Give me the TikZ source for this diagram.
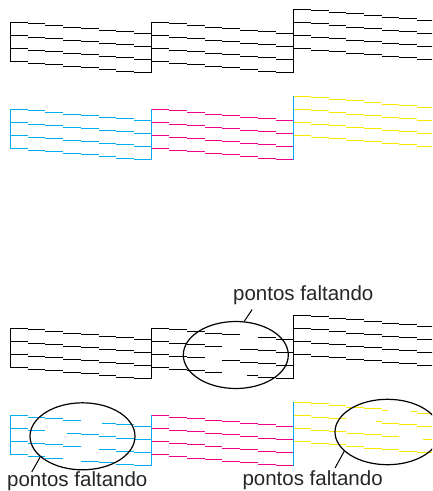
\documentclass[tikz,border=0pt]{standalone}
\usepackage{fontspec}
\setmainfont{Liberation Sans}
\usetikzlibrary{shapes.geometric}
\definecolor{pcyan}{RGB}{0,174,239}
\definecolor{pmag}{RGB}{236,0,140}
\definecolor{pyel}{RGB}{255,232,0}
\newcommand\lw{1.2pt}
% #1 colour, #2 x0, #3 y0, #4 row, #5 segment, #6 from, #7 to (fractions)
\newcommand\segp[7]{%
  \pgfmathsetmacro\ya{floor(#3+13.13*#4+1.571*#5)+0.5}%
  \pgfmathsetmacro\xa{#2+17.7*(#5+#6)}%
  \pgfmathsetmacro\xb{#2+17.7*(#5+#7)}%
  \draw[color=#1, line width=\lw] (\xa,\ya) -- (\xb,\ya);}
\newcommand\seg[5]{\segp{#1}{#2}{#3}{#4}{#5}{0}{1}}
\newcommand\fullrow[4]{\foreach \kk in {0,...,7}{\seg{#1}{#2}{#3}{#4}{\kk}}}
\newcommand\block[3]{\foreach \rr in {0,...,3}{\fullrow{#1}{#2}{#3}{\rr}}}
\newcommand\verts[2]{%
  \draw[color=#1,line width=\lw] (10.5,{floor(#2)}) -- (10.5,{floor(#2+39.4)+1});
  \draw[color=#1,line width=\lw] (151.5,{floor(#2)}) -- (151.5,{floor(#2+50.4)+1});
  \draw[color=#1,line width=\lw] (293.5,{floor(#2-13.13)}) -- (293.5,{floor(#2+50.4)+1});}
\tikzset{
  miss/.style={draw=black, line width=1.2pt, ellipse, minimum width=105pt, minimum height=67pt, inner sep=0pt},
  lbl/.style={anchor=base west, inner sep=0pt, font=\fontsize{20.5}{22}\selectfont, text=black!85},
  leader/.style={draw=black, line width=1pt}
}
\begin{document}
\begin{tikzpicture}[x=1pt,y=-1pt]
\useasboundingbox (0,0) rectangle (432,491);
\clip (0,0) rectangle (432,491);
% ---- top black
\renewcommand\lw{1.2pt}
\block{black}{10}{22.3}
\block{black}{151.6}{22.3}
\block{black}{293.2}{9.17}
\verts{black}{22.3}
% ---- top colour
\renewcommand\lw{1.5pt}
\block{pcyan}{10}{109.3}
\block{pmag}{151.6}{109.3}
\block{pyel}{293.2}{96.17}
\verts{pcyan}{109.3}
% ---- bottom black
\renewcommand\lw{1.2pt}
\block{black}{10}{328.3}
\foreach \kk in {0,1,2,3,4,6,7}{\seg{black}{151.6}{328.3}{0}{\kk}}
\foreach \kk in {0,1,2,3,5,6,7}{\seg{black}{151.6}{328.3}{1}{\kk}}
\foreach \kk in {0,1,2,4,5,6,7}{\seg{black}{151.6}{328.3}{2}{\kk}}
\foreach \kk in {0,1,2,3,6,7}{\seg{black}{151.6}{328.3}{3}{\kk}}
\segp{black}{151.6}{328.3}{3}{5}{0.4}{1}
\block{black}{293.2}{315.17}
\verts{black}{328.3}
% ---- bottom colour
\renewcommand\lw{1.5pt}
\foreach \kk in {0,1,2,3,6,7}{\seg{pcyan}{10}{415.5}{0}{\kk}}
\segp{pcyan}{10}{415.5}{0}{5}{0.18}{1}
\foreach \kk in {0,1,4,5,6,7}{\seg{pcyan}{10}{415.5}{1}{\kk}}
\segp{pcyan}{10}{415.5}{1}{3}{0.2}{1}
\foreach \kk in {0,1,2,3,5,6,7}{\seg{pcyan}{10}{415.5}{2}{\kk}}
\foreach \kk in {0,1,2,4,5,6,7}{\seg{pcyan}{10}{415.5}{3}{\kk}}
\block{pmag}{151.6}{415.5}
\foreach \kk in {0,1,2,3,4,7}{\seg{pyel}{293.2}{402.37}{0}{\kk}}
\segp{pyel}{293.2}{402.37}{0}{5}{0}{0.37}
\segp{pyel}{293.2}{402.37}{0}{6}{0.64}{1}
\foreach \kk in {0,1,2,5,6,7}{\seg{pyel}{293.2}{402.37}{1}{\kk}}
\segp{pyel}{293.2}{402.37}{1}{4}{0.68}{1}
\foreach \kk in {0,1,2,3,4,5}{\seg{pyel}{293.2}{402.37}{2}{\kk}}
\segp{pyel}{293.2}{402.37}{2}{7}{0.32}{1}
\fullrow{pyel}{293.2}{402.37}{3}
\verts{pcyan}{415.5}
% ---- circled regions and labels
\node[miss] (e1) at (235.8,355) {};
\node[miss] (e2) at (82.5,436.3) {};
\node[miss, minimum height=65.4pt] (e3) at (387.5,432) {};
\node[lbl] (l1) at (233,300.3) {pontos faltando};
\node[lbl] (l2) at (7,486.6) {pontos faltando};
\node[lbl] (l3) at (242.3,485) {pontos faltando};
\coordinate (t1) at (252.2,309.5);
\coordinate (t2) at (31.7,472);
\coordinate (t3) at (335,468);
\draw[leader] (e1.76) -- (t1);
\draw[leader] (e2.206) -- (t2);
\draw[leader] (e3.204) -- (t3);
\end{tikzpicture}
\end{document}
